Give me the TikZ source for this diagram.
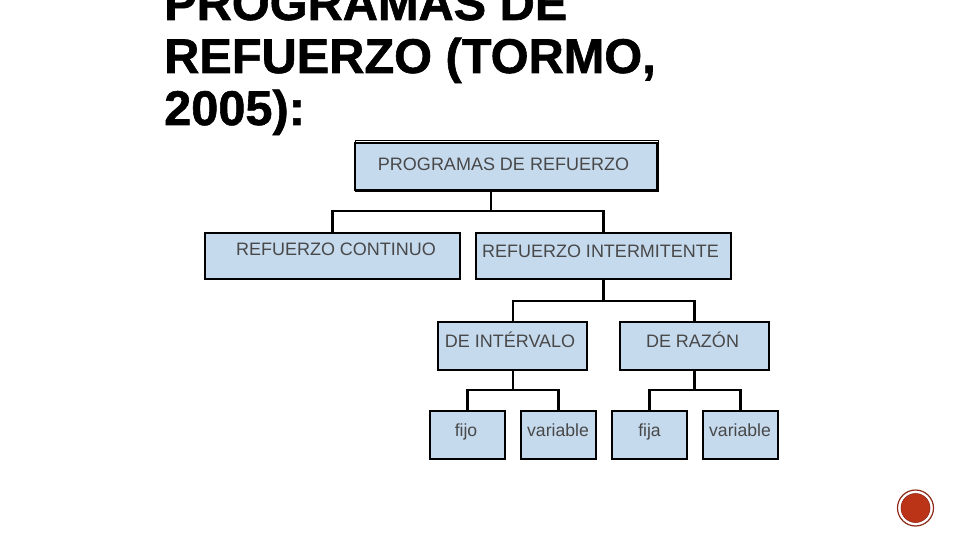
\documentclass[tikz,border=0pt]{standalone}
\usepackage{fontspec}
\setmainfont{Liberation Sans}
\newfontfamily\titlefont[FakeBold=1.2]{Liberation Sans Bold}
\definecolor{boxfill}{HTML}{C6DAEE}
\definecolor{boxtext}{HTML}{484848}
\definecolor{iconred}{HTML}{BC3418}
\definecolor{iconring}{HTML}{8E2A18}
\tikzset{
  box/.style={draw=black,line width=1.8pt,fill=boxfill,anchor=north west,inner sep=0pt,outer sep=0pt},
  lab/.style={anchor=base,inner sep=0pt,text=boxtext,font=\fontsize{18}{20}\selectfont},
  smalllab/.style={lab,font=\fontsize{17.6}{20}\selectfont},
  titletext/.style={anchor=base west,inner sep=0pt,font=\titlefont\fontsize{48.7}{52}\selectfont,text=black},
  link/.style={draw=black,line width=2.2pt},
}
\begin{document}
\begin{tikzpicture}[x=1pt,y=-1pt]
\useasboundingbox (0,0) rectangle (960,540);
\clip (0,0) rectangle (960,540);
\fill[white] (0,0) rectangle (960,540);
% title
\node[titletext] (t1) at (164,20) {PROGRAMAS DE};
\node[titletext] (t2) at (164,73) {REFUERZO (TORMO,};
\node[titletext] (t3) at (164,125) {2005):};
% boxes
\node[draw=black,line width=0.8pt,anchor=north west,minimum width=303pt,minimum height=51pt,inner sep=0pt] (topo) at (354.5,140) {};
\node[box,minimum width=302pt,minimum height=47pt] (top) at (355,143) {};
\node[box,minimum width=255pt,minimum height=46pt] (a) at (205,233) {};
\node[box,minimum width=255pt,minimum height=46pt] (b) at (476,233) {};
\node[box,minimum width=149pt,minimum height=48pt] (c) at (438,322) {};
\node[box,minimum width=149pt,minimum height=48pt] (d) at (620,322) {};
\node[box,minimum width=75pt,minimum height=48pt] (e) at (430,411) {};
\node[box,minimum width=75pt,minimum height=48pt] (f) at (521,411) {};
\node[box,minimum width=75pt,minimum height=48pt] (g) at (612,411) {};
\node[box,minimum width=75pt,minimum height=48pt] (h) at (703,411) {};
% connectors
\coordinate (b1) at (491,211);
\coordinate (b2) at (603.5,301);
\coordinate (b3) at (513,390);
\coordinate (b4) at (694.5,390);
\draw[link] (top.south -| b1) -- (b1);
\draw[link] (a.north) |- (b.north |- b1) -- (b.north);
\draw[link] (b.south) -- (b2);
\draw[link] (c.north -| b3) |- (b2) -| (d.north);
\draw[link] (c.south -| b3) -- (b3);
\draw[link] (e.north) |- (b3) -| (f.north);
\draw[link] (d.south -| b4) -- (b4);
\draw[link] (g.north) |- (b4) -| (h.north);
% labels
\node[lab] (lt) at (503.5,170.5) {PROGRAMAS DE REFUERZO};
\node[lab] (la) at (336,255.5) {REFUERZO CONTINUO};
\node[lab] (lb) at (600.5,257.5) {REFUERZO INTERMITENTE};
\node[lab] (lc) at (510,347.5) {DE INTÉRVALO};
\node[lab] (ld) at (692.5,347.5) {DE RAZÓN};
\node[smalllab] (le) at (466,436.5) {fijo};
\node[smalllab] (lf) at (558,436.5) {variable};
\node[smalllab] (lg) at (649.5,436.5) {fija};
\node[smalllab] (lh) at (740,436.5) {variable};
% icon
\node[circle,draw=iconring,line width=1.2pt,fill=white,minimum size=36pt,inner sep=0pt] (ring) at (915.5,508) {};
\node[circle,fill=iconred,draw=iconring,line width=0.6pt,minimum size=29pt,inner sep=0pt] (dot) at (915.5,508) {};
\end{tikzpicture}
\end{document}
